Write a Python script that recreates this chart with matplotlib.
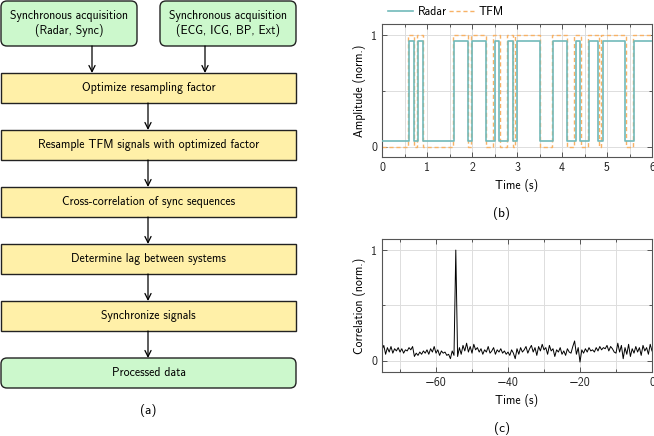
import numpy as np
import matplotlib
matplotlib.use("Agg")
import matplotlib.pyplot as plt
from matplotlib.patches import FancyBboxPatch
from matplotlib.ticker import MultipleLocator, FixedLocator

plt.rcParams['font.family'] = ['cmss10', 'DejaVu Sans']
plt.rcParams['axes.unicode_minus'] = True

# flowchart text
top_boxes = ["Synchronous acquisition\n(Radar, Sync)",
             "Synchronous acquisition\n(ECG, ICG, BP, Ext)"]
steps = ["Optimize resampling factor",
         "Resample TFM signals with optimized factor",
         "Cross-correlation of sync sequences",
         "Determine lag between systems",
         "Synchronize signals"]
final_box = "Processed data"

# sync sequences (step edges, s) and levels
radar_t = [0, 0.6, 0.7, 0.8, 0.9, 1.6, 1.9, 2.0, 2.3, 2.5, 2.6, 2.8, 2.9,
           3.0, 3.5, 3.8, 4.1, 4.3, 4.4, 4.6, 4.8, 4.9, 5.4, 5.6, 6.0]
radar_y = [0.05, 0.95, 0.05, 0.95, 0.05, 0.95, 0.05, 0.95, 0.05, 0.95, 0.05, 0.95, 0.05,
           0.95, 0.05, 0.95, 0.05, 0.95, 0.05, 0.95, 0.05, 0.95, 0.05, 0.95, 0.95]
tfm_t = [0, 0.57, 0.72, 0.77, 0.92, 1.57, 1.92, 1.97, 2.32, 2.47, 2.62, 2.77, 2.92,
         2.96, 3.52, 3.77, 4.12, 4.27, 4.42, 4.57, 4.82, 4.87, 5.42, 5.57, 6.0]
tfm_y = [0, 1, 0, 1, 0, 1, 0, 1, 0, 1, 0, 1, 0,
         1, 0, 1, 0, 1, 0, 1, 0, 1, 0, 1, 1]

# cross-correlation, -75 s .. 0 s in 0.5 s steps
corr = [0.10, 0.14, 0.06, 0.12, 0.08, 0.13, 0.07, 0.11, 0.09, 0.12, 0.08,
        0.11, 0.07, 0.10, 0.09, 0.12, 0.10, 0.13, 0.04, 0.07, 0.05,
        0.08, 0.06, 0.09, 0.07, 0.10, 0.06, 0.11, 0.08, 0.13, 0.07,
        0.10, 0.05, 0.09, 0.07, 0.08, 0.05, 0.06, 0.02, 0.09, 0.05,
        1.00,
        0.04, 0.12, 0.06, 0.14, 0.09, 0.16, 0.08, 0.13, 0.07,
        0.15, 0.10, 0.12, 0.08, 0.11, 0.06, 0.10, 0.08, 0.13, 0.07,
        0.09, 0.12, 0.06, 0.10, 0.08, 0.11, 0.07, 0.09, 0.06, 0.08,
        0.05, 0.10, 0.07, 0.02, 0.11, 0.06, 0.12, 0.08, 0.10, 0.13,
        0.07, 0.11, 0.14, 0.08, 0.12, 0.05, 0.13, 0.09, 0.15, 0.10,
        0.12, 0.06, 0.14, 0.09, 0.11, 0.04, 0.10, 0.08, 0.12, 0.06,
        0.09, 0.05, 0.11, 0.08, 0.07, 0.13, 0.18, 0.06, 0.12, -0.01,
        0.10, 0.07, 0.11, 0.08, 0.12, 0.09, 0.10, 0.08, 0.12, 0.09,
        0.13, 0.10, 0.12, 0.11, 0.14, 0.09, 0.13, 0.11, 0.08, 0.07,
        0.16, 0.08, 0.14, 0.02, 0.12, 0.06, 0.15, 0.04, 0.11, 0.07,
        0.13, 0.08, 0.12, 0.05, 0.14, 0.09, 0.12, 0.06, 0.15, 0.09]
corr_t = np.linspace(-75, 0, len(corr))

green = '#ccf8cc'
yellow = '#fff0a8'
edge = '#222222'
fs = 8.5

fig = plt.figure(figsize=(6.54, 4.36), dpi=100)

# ---- (a) flowchart, drawn in pixel coordinates
fa = fig.add_axes([0, 0, 1, 1])
fa.set_xlim(0, 654)
fa.set_ylim(436, 0)
fa.axis('off')

def box(x, y, w, h, text, color, rounded=False):
    style = "round,pad=0,rounding_size=6" if rounded else "square,pad=0"
    fa.add_patch(FancyBboxPatch((x, y), w, h, boxstyle=style, fc=color,
                                ec=edge, lw=1.0))
    fa.text(x + w / 2, y + h / 2, text, ha='center', va='center',
            fontsize=fs, linespacing=1.2)

def arrow(x, y0, y1):
    fa.annotate('', xy=(x, y1), xytext=(x, y0),
                arrowprops=dict(arrowstyle='->', color='k', lw=0.9,
                                shrinkA=0, shrinkB=0, mutation_scale=11))

box(1, 1, 136, 45, top_boxes[0], green, rounded=True)
box(160, 1, 136, 45, top_boxes[1], green, rounded=True)
arrow(92, 46, 73)
arrow(205, 46, 73)
y = 73
for i, s in enumerate(steps):
    box(1, y, 295, 30, s, yellow)
    arrow(148, y + 30, y + 57)
    y += 57
box(1, y, 295, 30, final_box, green, rounded=True)
fa.text(148, 410, "(a)", ha='center', va='center', fontsize=9.5)
fa.text(502, 213, "(b)", ha='center', va='center', fontsize=9.5)
fa.text(502, 428, "(c)", ha='center', va='center', fontsize=9.5)

def style_axes(ax):
    for sp in ax.spines.values():
        sp.set_color('#555555')
        sp.set_linewidth(0.8)
    ax.tick_params(which='both', direction='in', top=True, right=True,
                   colors='#555555', labelcolor='#222222', labelsize=fs,
                   width=0.7)
    ax.tick_params(which='major', length=3.5)
    ax.tick_params(which='minor', length=2.5)
    ax.grid(True, which='both', color='#dddddd', lw=0.7)
    ax.set_axisbelow(True)

# ---- (b) sync sequences
ab = fig.add_axes([382 / 654, 1 - 157 / 436, 270 / 654, 133 / 436])
ab.step(tfm_t, tfm_y, where='post', color='#f7b266', lw=1.0,
        dashes=(3, 2), label='TFM', zorder=2)
ab.step(radar_t, radar_y, where='post', color='#72baba', lw=1.2,
        label='Radar', zorder=3)
ab.set_xlim(0, 6)
ab.set_ylim(-0.09, 1.1)
ab.xaxis.set_major_locator(MultipleLocator(1))
ab.xaxis.set_minor_locator(MultipleLocator(0.5))
ab.yaxis.set_major_locator(FixedLocator([0, 1]))
ab.yaxis.set_minor_locator(FixedLocator([0.5]))
ab.set_xlabel("Time (s)", fontsize=fs, labelpad=4)
ab.set_ylabel("Amplitude (norm.)", fontsize=fs, labelpad=4)
style_axes(ab)
h, l = ab.get_legend_handles_labels()
ab.legend(h[::-1], l[::-1], ncol=2, loc='lower left', bbox_to_anchor=(0.0, 1.0),
          frameon=False, fontsize=fs, handlelength=2.1, columnspacing=0.25,
          handletextpad=0.4, borderaxespad=0.1)

# ---- (c) cross-correlation
ac = fig.add_axes([382 / 654, 1 - 372 / 436, 270 / 654, 133 / 436])
ac.plot(corr_t, corr, color='k', lw=0.7)
ac.set_xlim(-75, 0)
ac.set_ylim(-0.1, 1.1)
ac.xaxis.set_major_locator(MultipleLocator(20))
ac.xaxis.set_minor_locator(MultipleLocator(10))
ac.yaxis.set_major_locator(FixedLocator([0, 1]))
ac.yaxis.set_minor_locator(FixedLocator([0.5]))
ac.set_xlabel("Time (s)", fontsize=fs, labelpad=4)
ac.set_ylabel("Correlation (norm.)", fontsize=fs, labelpad=4)
style_axes(ac)

fig.savefig("out.png", dpi=100)
